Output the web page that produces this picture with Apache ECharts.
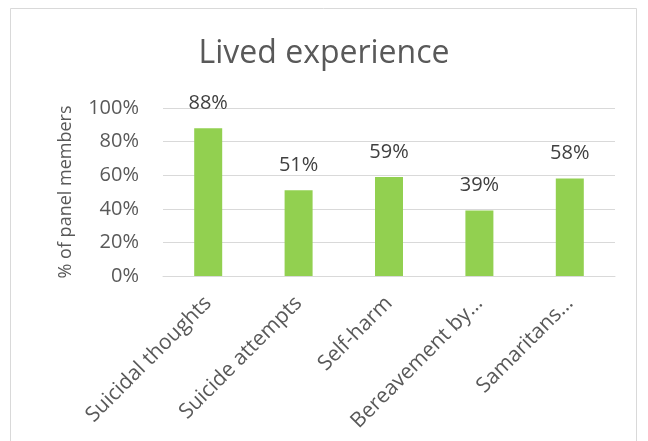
<!DOCTYPE html>
<html>
<head>
<meta charset="utf-8">
<script src="https://cdn.jsdelivr.net/npm/echarts@6/dist/echarts.min.js"></script>
<style>
  html, body { margin: 0; padding: 0; background: #fff; }
  #chart { width: 648px; height: 441px; }
</style>
</head>
<body>
<div id="chart"></div>
<script>
// data
const categories = ['Suicidal thoughts', 'Suicide attempts', 'Self-harm', 'Bereavement by\u2026', 'Samaritans\u2026'];
const values = [88, 51, 59, 39, 58];
const yTicks = [0, 20, 40, 60, 80, 100];

const font = '"Open Sans", "Liberation Sans", sans-serif';
const chart = echarts.init(document.getElementById('chart'), null, { renderer: 'canvas' });

const option = {
    animation: false,
    backgroundColor: '#fff',
    title: {
        text: 'Lived experience',
        left: 'center',
        top: 33,
        textStyle: { fontFamily: font, fontSize: 32, fontWeight: 'normal', color: '#595959' }
    },
    graphic: [{
        type: 'rect',
        shape: { x: 10.5, y: 8.5, width: 626, height: 450 },
        style: { fill: 'none', stroke: '#d9d9d9', lineWidth: 1 },
        silent: true
    }],
    grid: { left: 163, right: 33, top: 108, bottom: 165 },
    xAxis: {
        type: 'category',
        data: categories,
        axisLine: { lineStyle: { color: '#d9d9d9' } },
        axisTick: { show: false },
        axisLabel: { rotate: 45, fontFamily: font, fontSize: 21, color: '#595959', margin: 24, interval: 0 }
    },
    yAxis: {
        type: 'value',
        min: yTicks[0],
        max: yTicks[yTicks.length - 1],
        interval: 20,
        name: '% of panel members',
        nameLocation: 'middle',
        nameGap: 88,
        nameTextStyle: { fontFamily: font, fontSize: 18, color: '#595959' },
        axisLine: { show: false },
        axisTick: { show: false },
        splitLine: { lineStyle: { color: '#d9d9d9' } },
        axisLabel: { formatter: '{value}%', fontFamily: font, fontSize: 20, color: '#595959', margin: 24 }
    },
    series: [{
        type: 'bar',
        data: values,
        barWidth: 28,
        itemStyle: { color: '#92d050' },
        label: {
            show: true,
            position: 'top',
            distance: 15,
            formatter: '{c}%',
            fontFamily: font,
            fontSize: 20,
            color: '#404040'
        }
    }]
};

chart.setOption(option);
</script>
</body>
</html>
